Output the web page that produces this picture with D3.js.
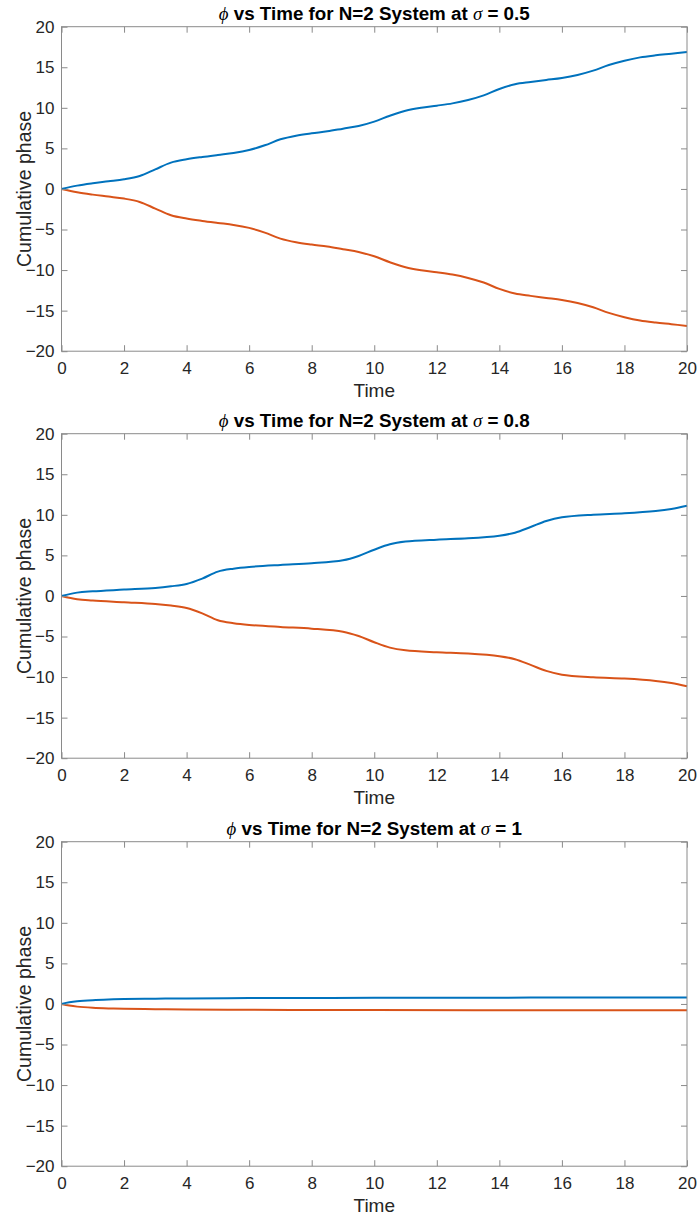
<!DOCTYPE html>
<html>
<head>
<meta charset="utf-8">
<script src="https://cdn.jsdelivr.net/npm/d3@7"></script>
<style>
  body { margin: 0; background: #fff; }
  svg { display: block; }
</style>
</head>
<body>
<svg id="chart" width="698" height="1217"></svg>
<script>
// ---------- data ----------
const sigmas = ["0.5", "0.8", "1"];
const xTicks = [0, 2, 4, 6, 8, 10, 12, 14, 16, 18, 20];
const yTicks = [-20, -15, -10, -5, 0, 5, 10, 15, 20];

// sigma = 0.5
const time1 = [0,0.5,1,1.5,2,2.5,3,3.5,4,4.5,5,5.5,6,6.5,7,7.5,8,8.5,9,9.5,10,
               10.5,11,11.5,12,12.5,13,13.5,14,14.5,15,15.5,16,16.5,17,17.5,18,18.5,19,19.5,20];
const blue1 = [0,0.41,0.7,0.94,1.19,1.6,2.42,3.24,3.65,3.94,4.19,4.43,4.8,5.38,6.12,6.57,6.86,7.1,7.43,7.76,8.3,
               9.03,9.65,10.02,10.27,10.55,10.97,11.54,12.32,12.9,13.18,13.43,13.68,14.05,14.58,15.28,15.81,16.22,16.47,16.67,16.88];
const orange1 = [0,-0.41,-0.7,-0.94,-1.19,-1.6,-2.42,-3.24,-3.65,-3.94,-4.19,-4.43,-4.8,-5.38,-6.12,-6.57,-6.86,-7.1,-7.43,-7.76,-8.3,
               -9.03,-9.65,-10.02,-10.27,-10.55,-10.97,-11.54,-12.32,-12.9,-13.18,-13.43,-13.68,-14.05,-14.58,-15.28,-15.81,-16.22,-16.47,-16.67,-16.88];

// sigma = 0.8
const time2 = [0,0.5,1,2,3,3.5,4,4.5,5,5.5,6,7,8,9,9.5,10,10.5,11,12,13,14,14.5,15,15.5,16,17,18,19,19.5,20];
const blue2 = [0,0.41,0.57,0.78,0.99,1.19,1.48,2.14,3.0,3.36,3.57,3.82,4.03,4.4,4.93,5.7,6.37,6.7,6.94,7.1,7.43,7.8,8.5,9.24,9.7,10.02,10.19,10.47,10.72,11.13];
const orange2 = [0,-0.41,-0.57,-0.78,-0.99,-1.19,-1.48,-2.14,-3.0,-3.36,-3.57,-3.82,-4.03,-4.4,-4.93,-5.7,-6.37,-6.7,-6.94,-7.1,-7.43,-7.8,-8.5,-9.24,-9.7,-10.02,-10.19,-10.47,-10.72,-11.13];

// sigma = 1
const time3 = [0,0.25,0.5,1,1.5,2,3,4,6,8,10,15,20];
const blue3 = [0,0.2,0.33,0.47,0.55,0.6,0.65,0.68,0.72,0.74,0.76,0.78,0.79];
const orange3 = [0,-0.2,-0.33,-0.47,-0.55,-0.6,-0.65,-0.68,-0.72,-0.74,-0.76,-0.78,-0.79];

const panels = [
  { sigma: sigmas[0], time: time1, blue: blue1, orange: orange1 },
  { sigma: sigmas[1], time: time2, blue: blue2, orange: orange2 },
  { sigma: sigmas[2], time: time3, blue: blue3, orange: orange3 }
];

// ---------- layout ----------
const left = 61.5, right = 687;
const tops = [26.7, 433.7, 841.7];
const plotH = 324.5;
const tickLen = 6;
const axisColor = "#8a8a8a";
const textColor = "#262626";
const font = "'Liberation Sans', Arial, Helvetica, sans-serif";
const serif = "'Liberation Serif', 'DejaVu Serif', 'Times New Roman', serif";

const svg = d3.select("#chart");

panels.forEach((p, i) => {
  const top = tops[i], bottom = top + plotH;
  const x = d3.scaleLinear().domain([0, 20]).range([left, right]);
  const y = d3.scaleLinear().domain([-20, 20]).range([bottom, top]);
  const g = svg.append("g");

  // lines
  const line = d3.line().x((d, k) => x(p.time[k])).y(d => y(d)).curve(d3.curveCatmullRom.alpha(0.5));
  g.append("path").datum(p.orange).attr("d", line)
    .attr("fill", "none").attr("stroke", "#D95319").attr("stroke-width", 2);
  g.append("path").datum(p.blue).attr("d", line)
    .attr("fill", "none").attr("stroke", "#0072BD").attr("stroke-width", 2);

  // axes (box with inward ticks)
  const styleAxis = sel => {
    sel.select(".domain").remove();
    sel.selectAll(".tick line").attr("stroke", axisColor).attr("stroke-width", 1);
    sel.selectAll(".tick text").attr("fill", textColor).style("font-family", font).style("font-size", "17px");
  };

  g.append("g").attr("transform", `translate(0,${bottom})`)
    .call(d3.axisBottom(x).tickValues(xTicks).tickSizeInner(-tickLen).tickSizeOuter(0).tickPadding(tickLen + 5).tickFormat(d3.format("d")))
    .call(styleAxis);
  g.append("g").attr("transform", `translate(0,${top})`)
    .call(d3.axisTop(x).tickValues(xTicks).tickSizeInner(-tickLen).tickSizeOuter(0).tickFormat(""))
    .call(styleAxis);
  g.append("g").attr("transform", `translate(${left},0)`)
    .call(d3.axisLeft(y).tickValues(yTicks).tickSizeInner(-tickLen).tickSizeOuter(0).tickPadding(tickLen + 1).tickFormat(d3.format("d")))
    .call(styleAxis);
  g.append("g").attr("transform", `translate(${right},0)`)
    .call(d3.axisRight(y).tickValues(yTicks).tickSizeInner(-tickLen).tickSizeOuter(0).tickFormat(""))
    .call(styleAxis);

  g.append("rect").attr("x", left).attr("y", top).attr("width", right - left).attr("height", plotH)
    .attr("fill", "none").attr("stroke", axisColor).attr("stroke-width", 1);

  // x label
  g.append("text").attr("x", (left + right) / 2).attr("y", bottom + 46)
    .attr("text-anchor", "middle").attr("fill", textColor)
    .style("font-family", font).style("font-size", "19px").text("Time");

  // y label
  g.append("text").attr("transform", `translate(31,${(top + bottom) / 2}) rotate(-90)`)
    .attr("text-anchor", "middle").attr("fill", textColor)
    .style("font-family", font).style("font-size", "19.5px").text("Cumulative phase");

  // title
  const t = g.append("text").attr("x", (left + right) / 2).attr("y", top - 6.5)
    .attr("text-anchor", "middle").attr("fill", "#000")
    .style("font-family", font).style("font-size", "18.8px").style("font-weight", "bold");
  t.append("tspan").style("font-family", serif).style("font-style", "italic").style("font-weight", "normal").text("\u03D5");
  t.append("tspan").text(" vs Time for N=2 System at ");
  t.append("tspan").style("font-family", serif).style("font-style", "italic").style("font-weight", "normal").text("\u03C3");
  t.append("tspan").text(" = " + p.sigma);
});
</script>
</body>
</html>
